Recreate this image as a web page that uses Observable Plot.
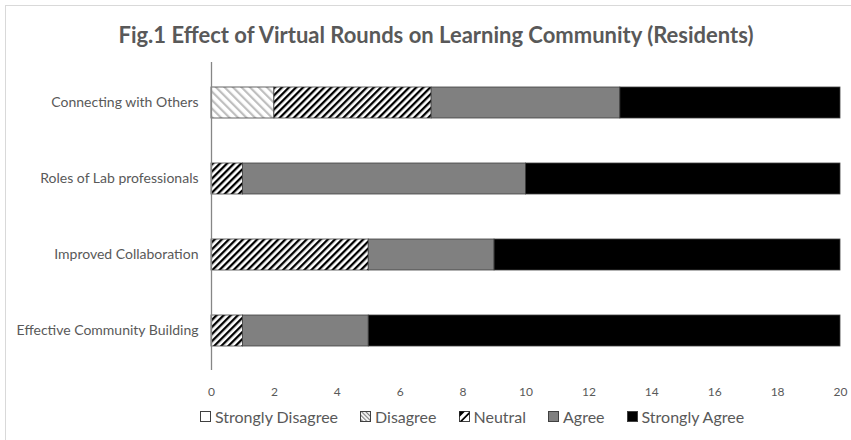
<!DOCTYPE html>
<html><head><meta charset="utf-8">
<script src="https://cdn.jsdelivr.net/npm/d3@7"></script>
<script src="https://cdn.jsdelivr.net/npm/@observablehq/plot@0.6"></script>
<style>
body{margin:0;background:#fff;}
#wrap{position:relative;width:851px;height:440px;overflow:hidden;font-family:Lato,"Open Sans",sans-serif;}
#frame{position:absolute;left:5px;top:5px;width:900px;height:500px;border-top:1px solid #d9d9d9;border-left:1px solid #d9d9d9;}
#title{position:absolute;left:0;top:21px;width:872px;text-align:center;font-size:22px;font-weight:bold;color:#595959;}
#legend{position:absolute;top:407px;left:200px;display:flex;gap:22px;font-size:16px;color:#595959;align-items:center;}
.li{display:flex;align-items:center;gap:4px;}
.li svg{display:block}
#chart{position:absolute;left:0;top:0;}
</style></head>
<body><div id="wrap"><div id="frame"></div><div id="chart"></div><div id="title">Fig.1 Effect of Virtual Rounds on Learning Community (Residents)</div><div id="legend"></div></div>
<script>
const categories = ["Connecting with Others","Roles of Lab professionals","Improved Collaboration","Effective Community Building"];
const series = ["Strongly Disagree","Disagree","Neutral","Agree","Strongly Agree"];
const stronglyDisagree = [0,0,0,0];
const disagree = [2,0,0,0];
const neutral = [5,1,5,1];
const agree = [6,9,4,4];
const stronglyAgree = [7,10,11,15];
const xTicks = [0,2,4,6,8,10,12,14,16,18,20];
const fills = ["#ffffff","url(#pDis)","url(#pNeu)","#808080","#000000"];

const cols = [stronglyDisagree, disagree, neutral, agree, stronglyAgree];
const data = [];
categories.forEach((c,i)=>series.forEach((s,j)=>{ if (cols[j][i] > 0) data.push({category:c, series:s, value:cols[j][i]}); }));

const chart = Plot.plot({
  width: 851, height: 440,
  marginLeft: 211, marginRight: 11, marginTop: 62, marginBottom: 70,
  style: {fontFamily: "Lato, 'Open Sans', sans-serif", color: "#595959", background: "transparent"},
  x: {domain: [0,20], ticks: xTicks, tickSize: 0, tickPadding: 17, label: null, axis: "bottom"},
  y: {domain: categories, paddingInner: 0.597, paddingOuter: 0.3, tickSize: 0, tickPadding: 13, label: null},
  color: {domain: series, range: fills},
  marks: [
    Plot.barX(data, Plot.stackX({x: "value", y: "category", fill: "series", order: series, stroke: "#404040", strokeWidth: 0.8})),
    Plot.ruleX([0], {stroke: "#868686", strokeWidth: 1.3, y1: null, y2: null})
  ]
});
const svg = d3.select(chart);
const defs = svg.insert("defs", ":first-child");
const p1 = defs.append("pattern").attr("id","pNeu").attr("patternUnits","userSpaceOnUse").attr("width",5).attr("height",5).attr("patternTransform","rotate(45)");
p1.append("rect").attr("width",5).attr("height",5).attr("fill","#fff");
p1.append("rect").attr("width",2.3).attr("height",5).attr("fill","#000");
const p2 = defs.append("pattern").attr("id","pDis").attr("patternUnits","userSpaceOnUse").attr("width",6).attr("height",6).attr("patternTransform","rotate(-45)");
p2.append("rect").attr("width",6).attr("height",6).attr("fill","#fff");
p2.append("rect").attr("width",2.2).attr("height",6).attr("fill","#bfbfbf");
svg.selectAll("[aria-label='y-axis tick label']").attr("font-size", 14);
svg.selectAll("[aria-label='x-axis tick label']").attr("font-size", 12);
document.getElementById("chart").appendChild(chart);

// legend
const leg = d3.select("#legend");
series.forEach((s,j)=>{
  const item = leg.append("div").attr("class","li");
  const sv = item.append("svg").attr("width",11).attr("height",11);
  const d = sv.append("defs");
  if (j===1){
    const p = d.append("pattern").attr("id","lDis").attr("patternUnits","userSpaceOnUse").attr("width",3).attr("height",3).attr("patternTransform","rotate(-45)");
    p.append("rect").attr("width",3).attr("height",3).attr("fill","#fff");
    p.append("rect").attr("width",1.2).attr("height",3).attr("fill","#808080");
  }
  let f = j===0?"#fff": j===1?"url(#lDis)": j===3?"#808080":"#000";
  if (j===2){
    sv.append("rect").attr("x",0.5).attr("y",0.5).attr("width",10).attr("height",10).attr("fill","#fff").attr("stroke","#404040");
    sv.append("path").attr("d","M0.5,10.5 L10.5,0.5 L10.5,3 L3,10.5 Z M0.5,6 L6,0.5 L0.5,0.5Z").attr("fill","#000");
  } else {
    sv.append("rect").attr("x",0.5).attr("y",0.5).attr("width",10).attr("height",10).attr("fill",f).attr("stroke","#404040");
  }
  item.append("span").text(s);
});
</script></body></html>
